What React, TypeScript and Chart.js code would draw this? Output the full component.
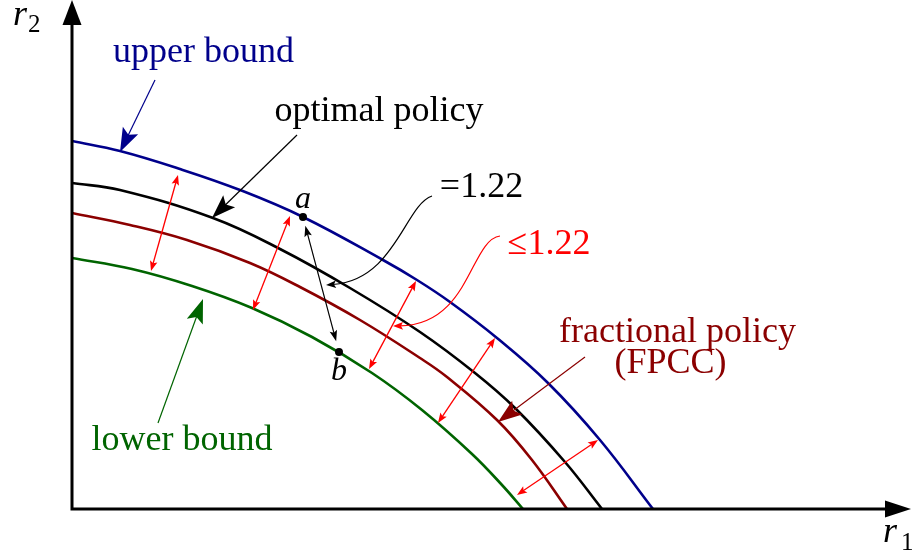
import { useEffect, useRef } from "react";
import { Chart, registerables } from "chart.js";

Chart.register(...registerables);

// Reward region boundaries in the (r1, r2) plane.
const upperR1 = [0, 0.48, 1.08, 1.68, 2.31, 3.11, 3.45, 3.78, 4.25, 4.76, 5.28, 5.81];
const upperR2 = [3.68, 3.58, 3.4, 3.19, 2.92, 2.49, 2.29, 2.07, 1.71, 1.26, 0.69, 0];

const optimalR1 = [0, 0.48, 1.41, 2.08, 2.78, 3.48, 4.03, 4.43, 4.93, 5.3];
const optimalR2 = [3.26, 3.19, 2.91, 2.6, 2.21, 1.77, 1.36, 1.01, 0.47, 0];

const fpccR1 = [0, 0.58, 1.15, 1.78, 2.28, 2.88, 3.48, 3.75, 4.25, 4.6, 4.95];
const fpccR2 = [2.96, 2.84, 2.69, 2.46, 2.22, 1.89, 1.51, 1.32, 0.89, 0.49, 0];

const lowerR1 = [0, 0.6, 1.2, 1.8, 2.4, 3.0, 3.5, 4.0, 4.3, 4.51];
const lowerR2 = [2.51, 2.4, 2.23, 2.01, 1.72, 1.36, 0.99, 0.55, 0.24, 0];

// Gap markers between upper and lower bound: [r1a, r2a, r1b, r2b]
const gapArrows = [
  [1.06, 3.34, 0.79, 2.38],
  [2.18, 2.93, 1.81, 1.99],
  [3.44, 2.28, 2.97, 1.4],
  [4.23, 1.71, 3.66, 0.86],
  [5.26, 0.69, 4.45, 0.14],
];

// Points a (upper bound) and b (lower bound)
const pointA = [2.31, 2.92];
const pointB = [2.67, 1.57];

// Ratio annotations: text, text anchor, and a cubic leader [p0, p1, p2, tip]
const ratioEqual = {
  text: "=1.22",
  at: [4.095, 3.12],
  path: [[3.6, 3.13], [3.33, 3.04], [3.23, 2.29], [2.54, 2.24]],
};
const ratioLeq = {
  text: "\u22641.22",
  at: [4.77, 2.55],
  path: [[4.28, 2.73], [3.98, 2.69], [3.98, 1.84], [3.21, 1.83]],
};

// Curve labels: text lines, anchors and pointer [from, tip]
const curveLabels = [
  { lines: ["upper bound"], at: [[1.315, 4.47]], color: "#00008b", from: [0.83, 4.29], tip: [0.48, 3.57] },
  { lines: ["optimal policy"], at: [[3.07, 3.88]], color: "#000000", from: [2.25, 3.74], tip: [1.4, 2.91] },
  {
    lines: ["fractional policy", "(FPCC)"],
    at: [[6.055, 1.67], [5.985, 1.36]],
    color: "#8b0000",
    from: [5.13, 1.52],
    tip: [4.26, 0.87],
  },
  { lines: ["lower bound"], at: [[1.1, 0.59]], color: "#006400", from: [0.86, 0.86], tip: [1.31, 2.1] },
];

const SERIF = '"Liberation Serif", "Times New Roman", serif';

function head(
  ctx: CanvasRenderingContext2D,
  tx: number,
  ty: number,
  fx: number,
  fy: number,
  len: number,
  half: number
) {
  const dx = tx - fx;
  const dy = ty - fy;
  const d = Math.hypot(dx, dy) || 1;
  const ux = dx / d;
  const uy = dy / d;
  const bx = tx - ux * len;
  const by = ty - uy * len;
  ctx.beginPath();
  ctx.moveTo(tx, ty);
  ctx.lineTo(bx - uy * half, by + ux * half);
  ctx.lineTo(tx - ux * len * 0.8, ty - uy * len * 0.8);
  ctx.lineTo(bx + uy * half, by - ux * half);
  ctx.closePath();
  ctx.fill();
}

function arrowLine(
  ctx: CanvasRenderingContext2D,
  x1: number,
  y1: number,
  x2: number,
  y2: number,
  len: number,
  half: number,
  both: boolean
) {
  const d = Math.hypot(x2 - x1, y2 - y1) || 1;
  const ux = (x2 - x1) / d;
  const uy = (y2 - y1) / d;
  const s = both ? len * 0.7 : 0;
  ctx.beginPath();
  ctx.moveTo(x1 + ux * s, y1 + uy * s);
  ctx.lineTo(x2 - ux * len * 0.7, y2 - uy * len * 0.7);
  ctx.stroke();
  head(ctx, x2, y2, x1, y1, len, half);
  if (both) head(ctx, x1, y1, x2, y2, len, half);
}

const annotations = {
  id: "regionAnnotations",
  afterDatasetsDraw(chart: Chart) {
    const ctx = chart.ctx;
    const xs = chart.scales.x;
    const ys = chart.scales.y;
    const X = (v: number) => xs.getPixelForValue(v);
    const Y = (v: number) => ys.getPixelForValue(v);
    const area = chart.chartArea;
    ctx.save();
    ctx.lineCap = "butt";

    // axes with arrow tips
    const ox = X(0);
    const oy = Y(0);
    ctx.strokeStyle = "#000";
    ctx.fillStyle = "#000";
    ctx.lineWidth = 3;
    ctx.lineJoin = "miter";
    ctx.beginPath();
    ctx.moveTo(ox, area.top + 22);
    ctx.lineTo(ox, oy);
    ctx.lineTo(area.right - 24, oy);
    ctx.stroke();
    ctx.beginPath();
    ctx.moveTo(ox, area.top);
    ctx.lineTo(ox - 9.5, area.top + 25);
    ctx.lineTo(ox + 9.5, area.top + 25);
    ctx.closePath();
    ctx.fill();
    ctx.beginPath();
    ctx.moveTo(area.right - 1, oy);
    ctx.lineTo(area.right - 27, oy - 8.5);
    ctx.lineTo(area.right - 27, oy + 8.5);
    ctx.closePath();
    ctx.fill();

    // axis titles
    ctx.textAlign = "left";
    ctx.textBaseline = "alphabetic";
    ctx.font = `italic 36px ${SERIF}`;
    ctx.fillText("r", ox - 59, area.top + 25);
    ctx.fillText("r", area.right - 29, oy + 33);
    ctx.font = `25px ${SERIF}`;
    ctx.fillText("2", ox - 44, area.top + 32);
    ctx.fillText("1", area.right - 11, oy + 41);

    // red gap markers
    ctx.strokeStyle = "#ff0000";
    ctx.fillStyle = "#ff0000";
    ctx.lineWidth = 1.3;
    gapArrows.forEach(([a1, a2, b1, b2]) => {
      arrowLine(ctx, X(a1), Y(a2), X(b1), Y(b2), 10, 3.8, true);
    });

    // a - b link
    ctx.strokeStyle = "#000";
    ctx.fillStyle = "#000";
    ctx.lineWidth = 1.2;
    const ax = X(pointA[0]);
    const ay = Y(pointA[1]);
    const bx = X(pointB[0]);
    const by = Y(pointB[1]);
    {
      const d = Math.hypot(bx - ax, by - ay);
      const ux = (bx - ax) / d;
      const uy = (by - ay) / d;
      arrowLine(ctx, ax + ux * 9, ay + uy * 9, bx - ux * 11, by - uy * 11, 11, 3.8, true);
    }
    ctx.beginPath();
    ctx.arc(ax, ay, 4, 0, Math.PI * 2);
    ctx.arc(bx, by, 4, 0, Math.PI * 2);
    ctx.fill();
    ctx.font = `italic 32px ${SERIF}`;
    ctx.textAlign = "center";
    ctx.fillText("a", ax, Y(3.01));
    ctx.fillText("b", bx, Y(1.29));

    // ratio leaders and texts
    const leader = (r: typeof ratioEqual, color: string) => {
      const p = r.path.map(([u, v]) => [X(u), Y(v)]);
      ctx.strokeStyle = color;
      ctx.fillStyle = color;
      ctx.lineWidth = 1.2;
      const dx = p[3][0] - p[2][0];
      const dy = p[3][1] - p[2][1];
      const d = Math.hypot(dx, dy);
      ctx.beginPath();
      ctx.moveTo(p[0][0], p[0][1]);
      ctx.bezierCurveTo(
        p[1][0],
        p[1][1],
        p[2][0],
        p[2][1],
        p[3][0] - (dx / d) * 7,
        p[3][1] - (dy / d) * 7
      );
      ctx.stroke();
      head(ctx, p[3][0], p[3][1], p[2][0], p[2][1], 10, 3.8);
      ctx.font = `36px ${SERIF}`;
      ctx.textAlign = "center";
      ctx.fillText(r.text, X(r.at[0]), Y(r.at[1]));
    };
    leader(ratioEqual, "#000000");
    leader(ratioLeq, "#ff0000");

    // curve labels with pointers
    curveLabels.forEach((lab) => {
      ctx.strokeStyle = lab.color;
      ctx.fillStyle = lab.color;
      ctx.lineWidth = 1.2;
      arrowLine(ctx, X(lab.from[0]), Y(lab.from[1]), X(lab.tip[0]), Y(lab.tip[1]), 24, 8.5, false);
      ctx.font = `36px ${SERIF}`;
      ctx.textAlign = "center";
      lab.lines.forEach((t, i) => {
        ctx.fillText(t, X(lab.at[i][0]), Y(lab.at[i][1]));
      });
    });

    ctx.restore();
  },
};

const curve = (r1: number[], r2: number[], color: string) => ({
  data: r1.map((x, i) => ({ x, y: r2[i] })),
  showLine: true,
  borderColor: color,
  backgroundColor: color,
  borderWidth: 2.6,
  pointRadius: 0,
  fill: false,
  tension: 0.4,
});

export default function App() {
  const ref = useRef<HTMLCanvasElement | null>(null);

  useEffect(() => {
    document.body.style.margin = "0";
    const canvas = ref.current;
    if (!canvas) return;
    const chart = new Chart(canvas, {
      type: "scatter",
      data: {
        datasets: [
          curve(upperR1, upperR2, "#00008b"),
          curve(optimalR1, optimalR2, "#000000"),
          curve(fpccR1, fpccR2, "#8b0000"),
          curve(lowerR1, lowerR2, "#006400"),
        ],
      },
      options: {
        animation: false,
        responsive: true,
        maintainAspectRatio: false,
        events: [],
        layout: { padding: { left: 72, top: 0, right: 0, bottom: 47 } },
        scales: {
          x: { type: "linear", min: 0, max: 8.4, display: false },
          y: { type: "linear", min: 0, max: 5.09, display: false },
        },
        plugins: { legend: { display: false }, tooltip: { enabled: false } },
      },
      plugins: [annotations],
    });
    return () => chart.destroy();
  }, []);

  return (
    <div style={{ width: 912, height: 556, position: "relative", background: "#fff" }}>
      <canvas ref={ref} />
    </div>
  );
}
